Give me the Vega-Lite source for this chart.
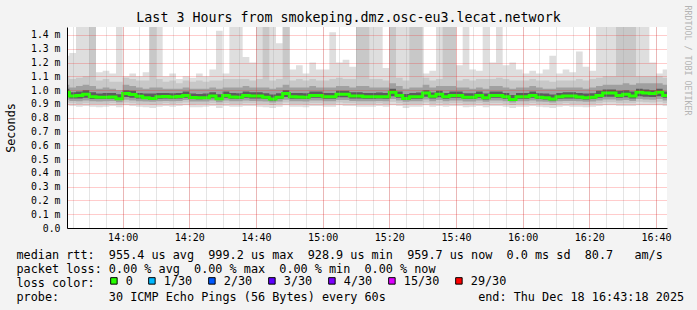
{
"$schema": "https://vega.github.io/schema/vega-lite/v6.json",
"width": 600, "height": 201,
"autosize": {"type": "none"},
"padding": {"left": 67, "top": 27, "right": 30, "bottom": 82},
"background": "#f3f3f3",
"config": {"view": {"fill": "white", "stroke": null}, "font": "DejaVu Sans Mono"},
"title": {"text": "Last 3 Hours from smokeping.dmz.osc-eu3.lecat.network", "font": "DejaVu Sans Mono", "fontSize": 13.3, "fontWeight": "normal", "color": "black", "anchor": "middle", "dx": -18.5, "offset": -19},
"data": {"values": [
{"t":"2025-12-18T13:42","mn":0.89,"b1":0.91,"c1":0.93,"d1":0.95,"md":0.985,"d2":1.01,"c2":1.04,"b2":1.1,"mx":1.25},
{"t":"2025-12-18T13:44","mn":0.885,"b1":0.905,"c1":0.922,"d1":0.94,"md":0.957,"d2":0.985,"c2":1.02,"b2":1.08,"mx":1.27},
{"t":"2025-12-18T13:46","mn":0.88,"b1":0.9,"c1":0.92,"d1":0.94,"md":0.962,"d2":0.99,"c2":1.03,"b2":1.09,"mx":1.6},
{"t":"2025-12-18T13:48","mn":0.885,"b1":0.905,"c1":0.925,"d1":0.945,"md":0.97,"d2":1.0,"c2":1.04,"b2":1.1,"mx":1.6},
{"t":"2025-12-18T13:50","mn":0.88,"b1":0.9,"c1":0.92,"d1":0.935,"md":0.952,"d2":0.985,"c2":1.03,"b2":1.6,"mx":1.6},
{"t":"2025-12-18T13:52","mn":0.875,"b1":0.9,"c1":0.918,"d1":0.935,"md":0.948,"d2":0.975,"c2":1.01,"b2":1.07,"mx":1.13},
{"t":"2025-12-18T13:54","mn":0.88,"b1":0.9,"c1":0.92,"d1":0.935,"md":0.948,"d2":0.98,"c2":1.02,"b2":1.08,"mx":1.14},
{"t":"2025-12-18T13:56","mn":0.885,"b1":0.905,"c1":0.922,"d1":0.938,"md":0.95,"d2":0.98,"c2":1.01,"b2":1.06,"mx":1.12},
{"t":"2025-12-18T13:58","mn":0.875,"b1":0.895,"c1":0.912,"d1":0.928,"md":0.938,"d2":0.97,"c2":1.0,"b2":1.06,"mx":1.6},
{"t":"2025-12-18T14:00","mn":0.89,"b1":0.91,"c1":0.93,"d1":0.95,"md":0.975,"d2":1.0,"c2":1.04,"b2":1.09,"mx":1.1},
{"t":"2025-12-18T14:02","mn":0.885,"b1":0.905,"c1":0.925,"d1":0.945,"md":0.968,"d2":0.995,"c2":1.03,"b2":1.08,"mx":1.12},
{"t":"2025-12-18T14:04","mn":0.88,"b1":0.9,"c1":0.92,"d1":0.94,"md":0.955,"d2":0.98,"c2":1.02,"b2":1.07,"mx":1.1},
{"t":"2025-12-18T14:06","mn":0.875,"b1":0.9,"c1":0.918,"d1":0.935,"md":0.945,"d2":0.975,"c2":1.01,"b2":1.07,"mx":1.13},
{"t":"2025-12-18T14:08","mn":0.87,"b1":0.895,"c1":0.915,"d1":0.93,"md":0.94,"d2":0.975,"c2":1.02,"b2":1.6,"mx":1.6},
{"t":"2025-12-18T14:10","mn":0.88,"b1":0.9,"c1":0.92,"d1":0.938,"md":0.952,"d2":0.98,"c2":1.02,"b2":1.08,"mx":1.6},
{"t":"2025-12-18T14:12","mn":0.885,"b1":0.905,"c1":0.922,"d1":0.94,"md":0.953,"d2":0.98,"c2":1.01,"b2":1.06,"mx":1.1},
{"t":"2025-12-18T14:14","mn":0.88,"b1":0.9,"c1":0.92,"d1":0.938,"md":0.951,"d2":0.978,"c2":1.01,"b2":1.07,"mx":1.12},
{"t":"2025-12-18T14:16","mn":0.885,"b1":0.905,"c1":0.922,"d1":0.94,"md":0.953,"d2":0.98,"c2":1.01,"b2":1.05,"mx":1.08},
{"t":"2025-12-18T14:18","mn":0.89,"b1":0.91,"c1":0.928,"d1":0.945,"md":0.962,"d2":0.99,"c2":1.02,"b2":1.07,"mx":1.1},
{"t":"2025-12-18T14:20","mn":0.875,"b1":0.898,"c1":0.918,"d1":0.935,"md":0.946,"d2":0.975,"c2":1.01,"b2":1.06,"mx":1.09},
{"t":"2025-12-18T14:22","mn":0.875,"b1":0.9,"c1":0.918,"d1":0.934,"md":0.944,"d2":0.972,"c2":1.01,"b2":1.07,"mx":1.12},
{"t":"2025-12-18T14:24","mn":0.88,"b1":0.9,"c1":0.918,"d1":0.935,"md":0.945,"d2":0.975,"c2":1.01,"b2":1.06,"mx":1.1},
{"t":"2025-12-18T14:26","mn":0.885,"b1":0.905,"c1":0.925,"d1":0.942,"md":0.958,"d2":0.985,"c2":1.02,"b2":1.07,"mx":1.15},
{"t":"2025-12-18T14:28","mn":0.87,"b1":0.895,"c1":0.912,"d1":0.928,"md":0.938,"d2":0.97,"c2":1.01,"b2":1.07,"mx":1.43},
{"t":"2025-12-18T14:30","mn":0.885,"b1":0.905,"c1":0.925,"d1":0.945,"md":0.962,"d2":0.99,"c2":1.02,"b2":1.08,"mx":1.12},
{"t":"2025-12-18T14:32","mn":0.88,"b1":0.9,"c1":0.92,"d1":0.938,"md":0.95,"d2":0.98,"c2":1.02,"b2":1.08,"mx":1.6},
{"t":"2025-12-18T14:34","mn":0.88,"b1":0.9,"c1":0.92,"d1":0.936,"md":0.948,"d2":0.978,"c2":1.02,"b2":1.08,"mx":1.6},
{"t":"2025-12-18T14:36","mn":0.885,"b1":0.905,"c1":0.925,"d1":0.945,"md":0.962,"d2":0.99,"c2":1.03,"b2":1.08,"mx":1.24},
{"t":"2025-12-18T14:38","mn":0.885,"b1":0.905,"c1":0.922,"d1":0.94,"md":0.957,"d2":0.985,"c2":1.02,"b2":1.07,"mx":1.2},
{"t":"2025-12-18T14:40","mn":0.88,"b1":0.9,"c1":0.92,"d1":0.94,"md":0.957,"d2":0.985,"c2":1.02,"b2":1.08,"mx":1.6},
{"t":"2025-12-18T14:42","mn":0.875,"b1":0.9,"c1":0.918,"d1":0.935,"md":0.948,"d2":0.978,"c2":1.02,"b2":1.6,"mx":1.6},
{"t":"2025-12-18T14:44","mn":0.87,"b1":0.892,"c1":0.91,"d1":0.925,"md":0.935,"d2":0.968,"c2":1.01,"b2":1.07,"mx":1.6},
{"t":"2025-12-18T14:46","mn":0.88,"b1":0.9,"c1":0.918,"d1":0.935,"md":0.948,"d2":0.978,"c2":1.02,"b2":1.08,"mx":1.34},
{"t":"2025-12-18T14:48","mn":0.89,"b1":0.91,"c1":0.93,"d1":0.95,"md":0.975,"d2":1.0,"c2":1.04,"b2":1.6,"mx":1.6},
{"t":"2025-12-18T14:50","mn":0.88,"b1":0.9,"c1":0.92,"d1":0.938,"md":0.952,"d2":0.98,"c2":1.02,"b2":1.07,"mx":1.15},
{"t":"2025-12-18T14:52","mn":0.88,"b1":0.9,"c1":0.92,"d1":0.938,"md":0.95,"d2":0.98,"c2":1.02,"b2":1.08,"mx":1.18},
{"t":"2025-12-18T14:54","mn":0.875,"b1":0.898,"c1":0.918,"d1":0.935,"md":0.948,"d2":0.978,"c2":1.02,"b2":1.07,"mx":1.12},
{"t":"2025-12-18T14:56","mn":0.885,"b1":0.905,"c1":0.925,"d1":0.945,"md":0.962,"d2":0.99,"c2":1.03,"b2":1.08,"mx":1.2},
{"t":"2025-12-18T14:58","mn":0.885,"b1":0.905,"c1":0.925,"d1":0.945,"md":0.962,"d2":0.99,"c2":1.02,"b2":1.07,"mx":1.15},
{"t":"2025-12-18T15:00","mn":0.88,"b1":0.9,"c1":0.92,"d1":0.938,"md":0.952,"d2":0.98,"c2":1.02,"b2":1.07,"mx":1.15},
{"t":"2025-12-18T15:02","mn":0.88,"b1":0.9,"c1":0.92,"d1":0.938,"md":0.952,"d2":0.98,"c2":1.02,"b2":1.08,"mx":1.42},
{"t":"2025-12-18T15:04","mn":0.89,"b1":0.91,"c1":0.928,"d1":0.948,"md":0.97,"d2":0.995,"c2":1.03,"b2":1.09,"mx":1.2},
{"t":"2025-12-18T15:06","mn":0.885,"b1":0.905,"c1":0.928,"d1":0.948,"md":0.97,"d2":0.995,"c2":1.03,"b2":1.08,"mx":1.22},
{"t":"2025-12-18T15:08","mn":0.885,"b1":0.905,"c1":0.922,"d1":0.94,"md":0.957,"d2":0.985,"c2":1.02,"b2":1.08,"mx":1.17},
{"t":"2025-12-18T15:10","mn":0.88,"b1":0.9,"c1":0.92,"d1":0.94,"md":0.957,"d2":0.985,"c2":1.03,"b2":1.6,"mx":1.6},
{"t":"2025-12-18T15:12","mn":0.88,"b1":0.9,"c1":0.92,"d1":0.938,"md":0.952,"d2":0.98,"c2":1.03,"b2":1.6,"mx":1.6},
{"t":"2025-12-18T15:14","mn":0.88,"b1":0.9,"c1":0.92,"d1":0.938,"md":0.952,"d2":0.98,"c2":1.02,"b2":1.08,"mx":1.6},
{"t":"2025-12-18T15:16","mn":0.885,"b1":0.905,"c1":0.922,"d1":0.94,"md":0.952,"d2":0.982,"c2":1.02,"b2":1.08,"mx":1.6},
{"t":"2025-12-18T15:18","mn":0.88,"b1":0.9,"c1":0.92,"d1":0.938,"md":0.952,"d2":0.98,"c2":1.02,"b2":1.07,"mx":1.16},
{"t":"2025-12-18T15:20","mn":0.89,"b1":0.915,"c1":0.935,"d1":0.955,"md":0.984,"d2":1.01,"c2":1.05,"b2":1.6,"mx":1.6},
{"t":"2025-12-18T15:22","mn":0.885,"b1":0.905,"c1":0.925,"d1":0.945,"md":0.962,"d2":0.99,"c2":1.03,"b2":1.09,"mx":1.6},
{"t":"2025-12-18T15:24","mn":0.87,"b1":0.895,"c1":0.915,"d1":0.93,"md":0.94,"d2":0.972,"c2":1.01,"b2":1.07,"mx":1.6},
{"t":"2025-12-18T15:26","mn":0.88,"b1":0.9,"c1":0.92,"d1":0.938,"md":0.952,"d2":0.98,"c2":1.02,"b2":1.6,"mx":1.6},
{"t":"2025-12-18T15:28","mn":0.88,"b1":0.9,"c1":0.92,"d1":0.938,"md":0.952,"d2":0.982,"c2":1.02,"b2":1.6,"mx":1.6},
{"t":"2025-12-18T15:30","mn":0.89,"b1":0.91,"c1":0.932,"d1":0.952,"md":0.98,"d2":1.0,"c2":1.04,"b2":1.09,"mx":1.12},
{"t":"2025-12-18T15:32","mn":0.88,"b1":0.9,"c1":0.92,"d1":0.94,"md":0.955,"d2":0.982,"c2":1.02,"b2":1.07,"mx":1.14},
{"t":"2025-12-18T15:34","mn":0.885,"b1":0.905,"c1":0.928,"d1":0.948,"md":0.97,"d2":0.995,"c2":1.03,"b2":1.08,"mx":1.6},
{"t":"2025-12-18T15:36","mn":0.88,"b1":0.9,"c1":0.92,"d1":0.938,"md":0.952,"d2":0.98,"c2":1.03,"b2":1.6,"mx":1.6},
{"t":"2025-12-18T15:38","mn":0.885,"b1":0.905,"c1":0.925,"d1":0.945,"md":0.962,"d2":0.99,"c2":1.03,"b2":1.6,"mx":1.6},
{"t":"2025-12-18T15:40","mn":0.885,"b1":0.905,"c1":0.925,"d1":0.945,"md":0.962,"d2":0.99,"c2":1.02,"b2":1.07,"mx":1.18},
{"t":"2025-12-18T15:42","mn":0.875,"b1":0.898,"c1":0.918,"d1":0.935,"md":0.948,"d2":0.978,"c2":1.02,"b2":1.08,"mx":1.6},
{"t":"2025-12-18T15:44","mn":0.88,"b1":0.9,"c1":0.918,"d1":0.935,"md":0.948,"d2":0.978,"c2":1.01,"b2":1.07,"mx":1.15},
{"t":"2025-12-18T15:46","mn":0.885,"b1":0.905,"c1":0.925,"d1":0.945,"md":0.962,"d2":0.99,"c2":1.02,"b2":1.08,"mx":1.14},
{"t":"2025-12-18T15:48","mn":0.875,"b1":0.898,"c1":0.916,"d1":0.933,"md":0.945,"d2":0.975,"c2":1.01,"b2":1.08,"mx":1.6},
{"t":"2025-12-18T15:50","mn":0.885,"b1":0.905,"c1":0.925,"d1":0.945,"md":0.962,"d2":0.99,"c2":1.03,"b2":1.08,"mx":1.2},
{"t":"2025-12-18T15:52","mn":0.885,"b1":0.905,"c1":0.925,"d1":0.945,"md":0.962,"d2":0.99,"c2":1.03,"b2":1.09,"mx":1.6},
{"t":"2025-12-18T15:54","mn":0.88,"b1":0.9,"c1":0.92,"d1":0.938,"md":0.952,"d2":0.98,"c2":1.02,"b2":1.08,"mx":1.18},
{"t":"2025-12-18T15:56","mn":0.87,"b1":0.892,"c1":0.91,"d1":0.924,"md":0.933,"d2":0.965,"c2":1.01,"b2":1.07,"mx":1.2},
{"t":"2025-12-18T15:58","mn":0.88,"b1":0.9,"c1":0.92,"d1":0.938,"md":0.952,"d2":0.98,"c2":1.02,"b2":1.07,"mx":1.15},
{"t":"2025-12-18T16:00","mn":0.88,"b1":0.9,"c1":0.92,"d1":0.938,"md":0.952,"d2":0.98,"c2":1.02,"b2":1.07,"mx":1.12},
{"t":"2025-12-18T16:02","mn":0.885,"b1":0.905,"c1":0.925,"d1":0.945,"md":0.962,"d2":0.99,"c2":1.03,"b2":1.08,"mx":1.14},
{"t":"2025-12-18T16:04","mn":0.88,"b1":0.9,"c1":0.918,"d1":0.935,"md":0.948,"d2":0.978,"c2":1.02,"b2":1.07,"mx":1.12},
{"t":"2025-12-18T16:06","mn":0.875,"b1":0.898,"c1":0.916,"d1":0.933,"md":0.945,"d2":0.975,"c2":1.01,"b2":1.07,"mx":1.15},
{"t":"2025-12-18T16:08","mn":0.87,"b1":0.892,"c1":0.91,"d1":0.925,"md":0.935,"d2":0.968,"c2":1.01,"b2":1.06,"mx":1.25},
{"t":"2025-12-18T16:10","mn":0.88,"b1":0.9,"c1":0.92,"d1":0.938,"md":0.952,"d2":0.98,"c2":1.02,"b2":1.07,"mx":1.12},
{"t":"2025-12-18T16:12","mn":0.885,"b1":0.905,"c1":0.922,"d1":0.94,"md":0.957,"d2":0.985,"c2":1.02,"b2":1.07,"mx":1.15},
{"t":"2025-12-18T16:14","mn":0.88,"b1":0.9,"c1":0.922,"d1":0.94,"md":0.957,"d2":0.985,"c2":1.02,"b2":1.07,"mx":1.13},
{"t":"2025-12-18T16:16","mn":0.88,"b1":0.9,"c1":0.92,"d1":0.938,"md":0.95,"d2":0.98,"c2":1.02,"b2":1.08,"mx":1.28},
{"t":"2025-12-18T16:18","mn":0.875,"b1":0.898,"c1":0.916,"d1":0.933,"md":0.945,"d2":0.975,"c2":1.01,"b2":1.07,"mx":1.17},
{"t":"2025-12-18T16:20","mn":0.88,"b1":0.9,"c1":0.918,"d1":0.935,"md":0.948,"d2":0.978,"c2":1.02,"b2":1.08,"mx":1.14},
{"t":"2025-12-18T16:22","mn":0.885,"b1":0.905,"c1":0.925,"d1":0.945,"md":0.962,"d2":0.995,"c2":1.03,"b2":1.09,"mx":1.6},
{"t":"2025-12-18T16:24","mn":0.89,"b1":0.912,"c1":0.932,"d1":0.952,"md":0.98,"d2":1.005,"c2":1.04,"b2":1.1,"mx":1.6},
{"t":"2025-12-18T16:26","mn":0.89,"b1":0.912,"c1":0.932,"d1":0.952,"md":0.98,"d2":1.005,"c2":1.04,"b2":1.1,"mx":1.6},
{"t":"2025-12-18T16:28","mn":0.885,"b1":0.905,"c1":0.925,"d1":0.945,"md":0.962,"d2":0.995,"c2":1.04,"b2":1.6,"mx":1.6},
{"t":"2025-12-18T16:30","mn":0.885,"b1":0.905,"c1":0.928,"d1":0.948,"md":0.97,"d2":1.0,"c2":1.05,"b2":1.6,"mx":1.6},
{"t":"2025-12-18T16:32","mn":0.885,"b1":0.905,"c1":0.922,"d1":0.94,"md":0.957,"d2":0.99,"c2":1.04,"b2":1.6,"mx":1.6},
{"t":"2025-12-18T16:34","mn":0.89,"b1":0.915,"c1":0.935,"d1":0.955,"md":0.985,"d2":1.01,"c2":1.05,"b2":1.1,"mx":1.6},
{"t":"2025-12-18T16:36","mn":0.89,"b1":0.912,"c1":0.932,"d1":0.952,"md":0.98,"d2":1.005,"c2":1.05,"b2":1.1,"mx":1.6},
{"t":"2025-12-18T16:38","mn":0.89,"b1":0.91,"c1":0.93,"d1":0.95,"md":0.975,"d2":1.0,"c2":1.05,"b2":1.1,"mx":1.2},
{"t":"2025-12-18T16:40","mn":0.89,"b1":0.915,"c1":0.935,"d1":0.955,"md":0.985,"d2":1.01,"c2":1.05,"b2":1.1,"mx":1.12},
{"t":"2025-12-18T16:42","mn":0.885,"b1":0.905,"c1":0.925,"d1":0.945,"md":0.962,"d2":0.99,"c2":1.04,"b2":1.09,"mx":1.15},
{"t":"2025-12-18T16:44","mn":0.885,"b1":0.905,"c1":0.925,"d1":0.945,"md":0.962,"d2":0.99,"c2":1.04,"b2":1.09,"mx":1.15}
]},
"layer": [
{"mark": {"type": "area", "interpolate": "step-after", "color": "#dedede", "clip": true},
 "encoding": {
  "x": {"field": "t", "type": "temporal",
        "scale": {"domain": [{"year": 2025, "month": 12, "date": 18, "hours": 13, "minutes": 43, "seconds": 18}, {"year": 2025, "month": 12, "date": 18, "hours": 16, "minutes": 43, "seconds": 18}]},
        "axis": {"orient": "bottom", "tickCount": 36, "labels": false, "ticks": false, "domain": false, "grid": true, "gridColor": "#a0a0a0", "gridOpacity": 0.55, "gridDash": [1, 1], "title": null, "zindex": 1}},
  "y": {"field": "mn", "type": "quantitative", "scale": {"domain": [0, 1.458], "nice": false, "zero": false},
        "axis": {"orient": "left", "values": [0, 0.1, 0.2, 0.3, 0.4, 0.5, 0.6, 0.7, 0.8, 0.9, 1.0, 1.1, 1.2, 1.3, 1.4],
                 "labelExpr": "datum.value == 0 ? '0.0\u00a0\u00a0' : format(datum.value, '.1f') + ' m'",
                 "labelFont": "DejaVu Sans Mono", "labelFontSize": 9.8, "labelColor": "black", "labelPadding": 7,
                 "ticks": false, "domain": true, "domainColor": "black", "domainWidth": 1,
                 "grid": true, "gridColor": "#ff0000", "gridOpacity": 0.4, "gridDash": [1, 1],
                 "title": "Seconds", "titleFont": "DejaVu Sans Mono", "titleFontSize": 11.8, "titleFontWeight": "normal", "titleColor": "black",
                 "titleX": -57, "titleY": 100.5, "titleAngle": 270, "titleAlign": "center", "titleBaseline": "middle", "zindex": 1}},
  "y2": {"field": "mx"}
 }},
{"mark": {"type": "area", "interpolate": "step-after", "color": "#c8c8c8", "clip": true},
 "encoding": {
  "x": {"field": "t", "type": "temporal", "axis": null},
  "y": {"field": "b1", "type": "quantitative",
        "axis": {"orient": "right", "labels": false, "ticks": false, "domain": false, "grid": false,
                 "title": "RRDTOOL / TOBI OETIKER", "titleFont": "DejaVu Sans Mono", "titleFontSize": 8.3, "titleFontWeight": "normal", "titleColor": "#b4b4b4",
                 "titleAngle": 90, "titleX": 19, "titleY": 33, "titleAlign": "center", "titleBaseline": "middle"}},
  "y2": {"field": "b2"}
 }},
{"mark": {"type": "area", "interpolate": "step-after", "color": "#a0a0a0", "clip": true},
 "encoding": {
  "x": {"field": "t", "type": "temporal", "axis": null},
  "y": {"field": "c1", "type": "quantitative", "axis": null},
  "y2": {"field": "c2"}
 }},
{"mark": {"type": "area", "interpolate": "step-after", "color": "#5c5c5c", "clip": true},
 "encoding": {
  "x": {"field": "t", "type": "temporal", "axis": null},
  "y": {"field": "d1", "type": "quantitative", "axis": null},
  "y2": {"field": "d2"}
 }},
{"mark": {"type": "area", "interpolate": "step-after", "clip": true},
 "encoding": {
  "x": {"field": "t", "type": "temporal", "axis": null},
  "y": {"field": "md", "type": "quantitative", "axis": null},
  "y2": {"field": "md"},
  "color": {"datum": "0", "type": "nominal",
            "scale": {"domain": ["0", "1/30", "2/30", "3/30", "4/30", "15/30", "29/30"], "range": ["#26ff00", "#00b8ff", "#0059ff", "#5e00ff", "#7e00ff", "#dd00ff", "#ff0000"]},
            "legend": {"orient": "none", "legendX": 41, "legendY": 248, "direction": "horizontal", "gridAlign": "none",
                       "title": null,
                       "symbolType": "square", "symbolSize": 42, "symbolStrokeColor": "black", "symbolStrokeWidth": 1,
                       "labelFont": "DejaVu Sans Mono", "labelFontSize": 11.8, "labelColor": "black", "labelOffset": 6, "columnPadding": 13}}
 }},
{"mark": {"type": "line", "interpolate": "step-after", "color": "#26ff00", "strokeWidth": 3, "clip": true},
 "encoding": {
  "x": {"field": "t", "type": "temporal",
        "axis": {"orient": "bottom",
                 "values": [{"year": 2025, "month": 12, "date": 18, "hours": 14, "minutes": 0}, {"year": 2025, "month": 12, "date": 18, "hours": 14, "minutes": 20}, {"year": 2025, "month": 12, "date": 18, "hours": 14, "minutes": 40}, {"year": 2025, "month": 12, "date": 18, "hours": 15, "minutes": 0}, {"year": 2025, "month": 12, "date": 18, "hours": 15, "minutes": 20}, {"year": 2025, "month": 12, "date": 18, "hours": 15, "minutes": 40}, {"year": 2025, "month": 12, "date": 18, "hours": 16, "minutes": 0}, {"year": 2025, "month": 12, "date": 18, "hours": 16, "minutes": 20}, {"year": 2025, "month": 12, "date": 18, "hours": 16, "minutes": 40}],
                 "format": "%H:%M",
                 "labelFont": "DejaVu Sans Mono", "labelFontSize": 10, "labelColor": "black", "labelPadding": 4, "labelFlush": false, "labelOverlap": false,
                 "ticks": false, "domain": true, "domainColor": "black", "domainWidth": 1,
                 "grid": true, "gridColor": "#ff0000", "gridOpacity": 0.4, "gridDash": [1, 1],
                 "title": ["median rtt:\u00a0\u00a0955.4 us avg\u00a0\u00a0999.2 us max\u00a0\u00a0928.9 us min\u00a0\u00a0959.7 us now\u00a0\u00a00.0 ms sd\u00a0\u00a080.7\u00a0\u00a0\u00a0am/s",
                           "packet loss: 0.00 % avg\u00a0\u00a00.00 % max\u00a0\u00a00.00 % min\u00a0\u00a00.00 % now",
                           "loss color:",
                           "probe:\u00a0\u00a0\u00a0\u00a0\u00a0\u00a0\u00a030 ICMP Echo Pings (56 Bytes) every 60s\u00a0\u00a0\u00a0\u00a0\u00a0\u00a0\u00a0\u00a0\u00a0\u00a0\u00a0\u00a0\u00a0end: Thu Dec 18 16:43:18 2025"],
                 "titleFont": "DejaVu Sans Mono", "titleFontSize": 11.8, "titleFontWeight": "normal", "titleColor": "black",
                 "titleAnchor": "start", "titleAlign": "left", "titleBaseline": "alphabetic", "titleX": -51, "titleY": 30.3, "titleLineHeight": 14, "zindex": 1}},
  "y": {"field": "md", "type": "quantitative", "axis": null}
 }}
],
"resolve": {"axis": {"x": "independent", "y": "independent"}}
}
